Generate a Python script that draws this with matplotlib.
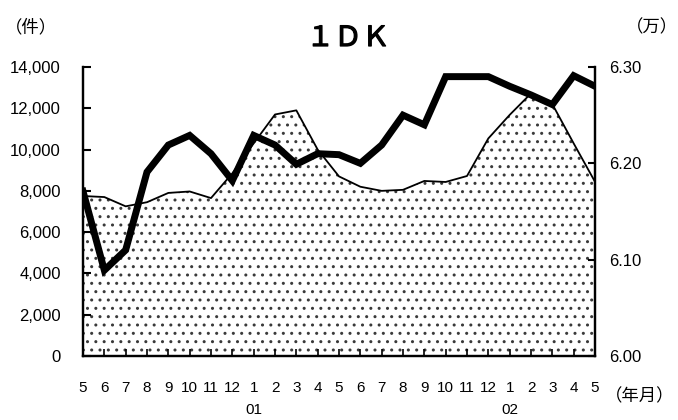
import matplotlib
matplotlib.use("Agg")
import matplotlib.pyplot as plt
from matplotlib import font_manager
from matplotlib.ticker import FuncFormatter, MultipleLocator
import matplotlib.transforms as mtrans
import matplotlib.patheffects as pe

# ---------------- data ----------------
months = ["5", "6", "7", "8", "9", "10", "11", "12", "1", "2", "3", "4",
          "5", "6", "7", "8", "9", "10", "11", "12", "1", "2", "3", "4", "5"]
year_positions = [8, 20]
year_labels = ["01", "02"]

# left axis: number of listings (件)
counts = [7750, 7700, 7250, 7450, 7900, 7970, 7650, 8850, 10300, 11700, 11900,
          10000, 8700, 8200, 8000, 8050, 8480, 8430, 8720, 10540, 11680, 12720,
          12200, 10300, 8440]
# right axis: average rent (万)
rent = [6.171, 6.089, 6.110, 6.191, 6.219, 6.229, 6.210, 6.182, 6.229, 6.219,
        6.199, 6.210, 6.209, 6.200, 6.219, 6.250, 6.240, 6.290, 6.290, 6.290,
        6.280, 6.271, 6.261, 6.291, 6.280]

title = "１ＤＫ"
left_unit = "（件）"
right_unit = "（万）"
x_unit = "（年月）"

# ---------------- fonts ----------------
avail = {f.name for f in font_manager.fontManager.ttflist}
narrow = "Liberation Sans Narrow" if "Liberation Sans Narrow" in avail else "Liberation Sans"
cjk = ["Noto Sans CJK JP", "DejaVu Sans"]
plt.rcParams["font.family"] = ["Liberation Sans", "DejaVu Sans"]
plt.rcParams["hatch.linewidth"] = 1.0

fig = plt.figure(figsize=(6.78, 4.2), dpi=100)
ax = fig.add_axes([83 / 678, 64 / 420, 512 / 678, 289 / 420])
ax2 = ax.twinx()

x = list(range(len(months)))

ax.fill_between(x, counts, 0, facecolor="white", edgecolor="#3a3a3a",
                hatch="..", linewidth=0, zorder=1)
ax.plot(x, counts, color="black", linewidth=1.3, zorder=2)
ax2.plot(x, rent, color="black", linewidth=5.0, solid_joinstyle="miter", zorder=3)

ax.set_xlim(0, len(months) - 1)
ax.set_ylim(0, 14000)
ax2.set_ylim(6.00, 6.30)

ax.yaxis.set_major_locator(MultipleLocator(2000))
ax.yaxis.set_major_formatter(FuncFormatter(lambda v, p: f"{v:,.0f}"))
ax2.yaxis.set_major_locator(MultipleLocator(0.1))
ax2.yaxis.set_major_formatter(FuncFormatter(lambda v, p: f"{v:.2f}"))

ax.set_xticks(x)
ax.set_xticklabels(months, fontfamily=narrow, fontsize=11)

for a in (ax, ax2):
    a.spines["top"].set_visible(False)
    for s in ("left", "right", "bottom"):
        a.spines[s].set_linewidth(1.6)
        a.spines[s].set_color("black")

ax.tick_params(axis="y", direction="in", length=6, width=1.5, pad=16, labelsize=12)
ax2.tick_params(axis="y", direction="in", length=5, width=1.5, pad=10, labelsize=12)
ax.tick_params(axis="x", direction="in", length=5, width=1.2, pad=18)

trans = mtrans.blended_transform_factory(ax.transData, fig.transFigure)
for pos, lab in zip(year_positions, year_labels):
    ax.text(pos, 1 - 410 / 420, lab, transform=trans, ha="center", va="center",
            fontfamily=narrow, fontsize=11)

fig.text(348 / 678, 1 - 38 / 420, title, ha="center", va="center",
         fontsize=20, family=cjk,
         path_effects=[pe.withStroke(linewidth=0.9, foreground="black")])
fig.text(31 / 678, 1 - 27 / 420, left_unit, ha="center", va="center",
         fontsize=12.5, family=cjk)
fig.text(652 / 678, 1 - 27 / 420, right_unit, ha="center", va="center",
         fontsize=12.5, family=cjk)
fig.text(640 / 678, 1 - 396 / 420, x_unit, ha="center", va="center",
         fontsize=12.5, family=cjk)

fig.savefig("out.png", dpi=100)
